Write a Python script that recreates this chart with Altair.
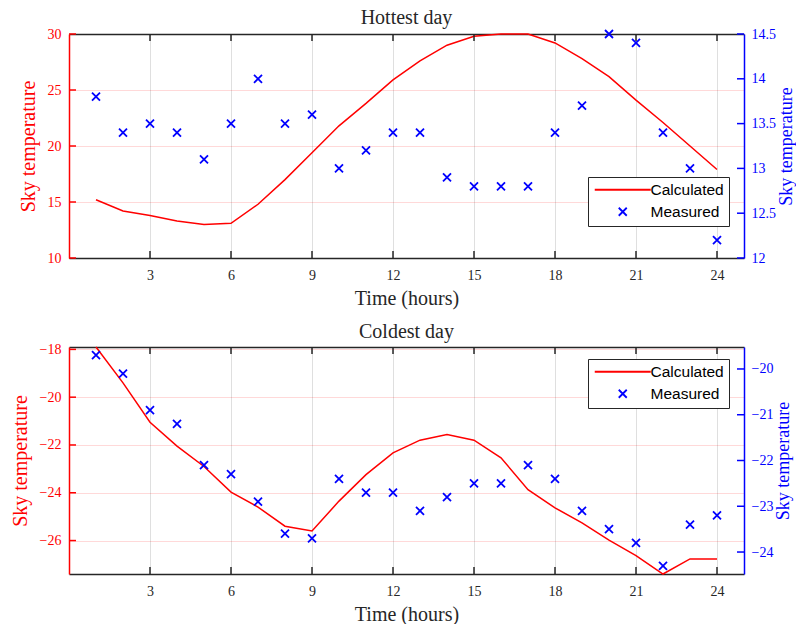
import altair as alt
import pandas as pd

hours = list(range(1, 25))

hot_calc = [15.2, 14.2, 13.8, 13.3, 13.0, 13.1, 14.8, 17.0, 19.4, 21.8, 23.8, 25.9,
            27.6, 29.0, 29.8, 30.0, 30.0, 29.2, 27.8, 26.2, 24.1, 22.1, 20.0, 17.9]
hot_meas = [13.8, 13.4, 13.5, 13.4, 13.1, 13.5, 14.0, 13.5, 13.6, 13.0, 13.2, 13.4,
            13.4, 12.9, 12.8, 12.8, 12.8, 13.4, 13.7, 14.5, 14.4, 13.4, 13.0, 12.2]
cold_calc = [-17.9, -19.4, -21.05, -22.05, -22.9, -23.97, -24.6, -25.4, -25.6, -24.35,
             -23.24, -22.33, -21.8, -21.56, -21.8, -22.54, -23.87, -24.63, -25.26,
             -25.98, -26.63, -27.4, -26.77, -26.77]
cold_meas = [-19.7, -20.1, -20.9, -21.2, -22.1, -22.3, -22.9, -23.6, -23.7, -22.4,
             -22.7, -22.7, -23.1, -22.8, -22.5, -22.5, -22.1, -22.4, -23.1, -23.5,
             -23.8, -24.3, -23.4, -23.2]

x_ticks = [3, 6, 9, 12, 15, 18, 21, 24]
hot_left_ticks = [10, 15, 20, 25, 30]
hot_right_ticks = [12, 12.5, 13, 13.5, 14, 14.5]
cold_left_ticks = [-26, -24, -22, -20, -18]
cold_right_ticks = [-24, -23, -22, -21, -20]
series_names = ["Calculated", "Measured"]

SERIF = "Liberation Serif"
SANS = "Liberation Sans"
DARK = "#262626"
RED = "#ff0000"
BLUE = "#0000ff"
W = 675
CROSS = "M-1,-1L1,1M-1,1L1,-1"
LINE_SYM = "M-7,0L7,0"
TICK = 7


def panel(title, calc, meas, ldom, rdom, lticks, rticks, legend_xy, height, title_offset):
    xscale = alt.Scale(domain=[0, 25], nice=False)
    lscale = alt.Scale(domain=ldom, nice=False, zero=False)
    rscale = alt.Scale(domain=rdom, nice=False, zero=False)

    df_c = pd.DataFrame({"hour": hours, "temp": calc})
    df_m = pd.DataFrame({"hour": hours, "temp": meas, "series": ["Measured"] * len(hours)})
    df_xt = pd.DataFrame({"hour": x_ticks})
    df_lt = pd.DataFrame({"temp": lticks})
    df_rt = pd.DataFrame({"temp": rticks})

    xaxis = alt.Axis(values=x_ticks, title="Time (hours)", grid=True, gridColor=DARK,
                     gridOpacity=0.15, ticks=False, tickSize=0, domainColor=DARK,
                     domainWidth=1.5, labelColor=DARK, labelFont=SERIF, labelFontSize=14,
                     labelPadding=10, titleFont=SERIF, titleFontSize=20,
                     titleFontWeight="normal", titleColor=DARK, titlePadding=6)
    laxis = alt.Axis(values=lticks, title="Sky temperature", orient="left", grid=True,
                     gridColor=RED, gridOpacity=0.15, ticks=False, tickSize=0,
                     domainColor=RED, domainWidth=1.5, labelColor=RED, labelFont=SERIF,
                     labelFontSize=14, labelPadding=8, titleFont=SERIF, titleFontSize=20,
                     titleFontWeight="normal", titleColor=RED, titlePadding=9)
    raxis = alt.Axis(values=rticks, title="Sky temperature", orient="right", grid=False,
                     ticks=False, tickSize=0, domainColor=BLUE, domainWidth=1.5,
                     labelColor=BLUE, labelFont=SERIF, labelFontSize=14, labelPadding=7,
                     format=".1~f",
                     titleFont=SERIF, titleFontSize=18, titleFontWeight="normal",
                     titleColor=BLUE, titlePadding=2, titleAngle=270, titleBaseline="top")
    taxis = alt.Axis(orient="top", labels=False, ticks=False, tickSize=0, grid=False,
                     title=None, domainColor=DARK, domainWidth=1.5)

    line = alt.Chart(df_c).mark_line(color=RED, strokeWidth=1.5).encode(
        x=alt.X("hour:Q", scale=xscale, axis=xaxis),
        y=alt.Y("temp:Q", scale=lscale, axis=laxis),
    )
    xt_bottom = alt.Chart(df_xt).mark_rule(color=DARK, strokeWidth=1.5).encode(
        x=alt.X("hour:Q", scale=xscale, axis=xaxis),
        y=alt.value(height), y2=alt.value(height - TICK),
    )
    xt_top = alt.Chart(df_xt).mark_rule(color=DARK, strokeWidth=1.5).encode(
        x=alt.X("hour:Q", scale=xscale, axis=xaxis),
        y=alt.value(0), y2=alt.value(TICK),
    )
    lt = alt.Chart(df_lt).mark_rule(color=RED, strokeWidth=1.5).encode(
        y=alt.Y("temp:Q", scale=lscale, axis=laxis),
        x=alt.value(0), x2=alt.value(TICK),
    )
    left = alt.layer(line, xt_bottom, xt_top, lt)

    leg = alt.Legend(orient="none", legendX=legend_xy[0], legendY=legend_xy[1], title=None,
                     strokeColor=DARK, fillColor="white", padding=5, symbolSize=64,
                     symbolStrokeWidth=1.8, symbolOffset=22, labelOffset=20,
                     labelFont=SANS, labelFontSize=15.5, labelColor="black", rowPadding=5,
                     cornerRadius=0)
    pts = alt.Chart(df_m).mark_point(filled=False, size=64, strokeWidth=1.8, opacity=1).encode(
        x=alt.X("hour:Q", scale=xscale, axis=taxis),
        y=alt.Y("temp:Q", scale=rscale, axis=raxis),
        color=alt.Color("series:N", scale=alt.Scale(domain=series_names, range=[RED, BLUE]),
                        legend=leg),
        shape=alt.Shape("series:N", scale=alt.Scale(domain=series_names, range=[LINE_SYM, CROSS]),
                        legend=leg),
    )
    rt = alt.Chart(df_rt).mark_rule(color=BLUE, strokeWidth=1.5).encode(
        y=alt.Y("temp:Q", scale=rscale, axis=raxis),
        x=alt.value(W), x2=alt.value(W - TICK),
    )
    right = alt.layer(pts, rt)

    return alt.layer(left, right).resolve_scale(y="independent").resolve_axis(
        x="independent").properties(
        width=W, height=height,
        title=alt.Title(title, font=SERIF, fontSize=20, fontWeight="normal", color=DARK,
                        offset=title_offset),
    )


top = panel("Hottest day", hot_calc, hot_meas, [10, 30], [12, 14.5],
            hot_left_ticks, hot_right_ticks, (519, 143), 224, -2)
bottom = panel("Coldest day", cold_calc, cold_meas, [-27.4, -17.9], [-24.48, -19.52],
               cold_left_ticks, cold_right_ticks, (519, 12), 227, 0)

chart = alt.vconcat(top, bottom, spacing=14).resolve_scale(
    color="independent", shape="independent").properties(
    padding={"left": 2, "right": 0, "top": 0, "bottom": 0}
).configure_view(stroke=None)

chart.save("out.html", embed_options={"renderer": "svg", "actions": False})
